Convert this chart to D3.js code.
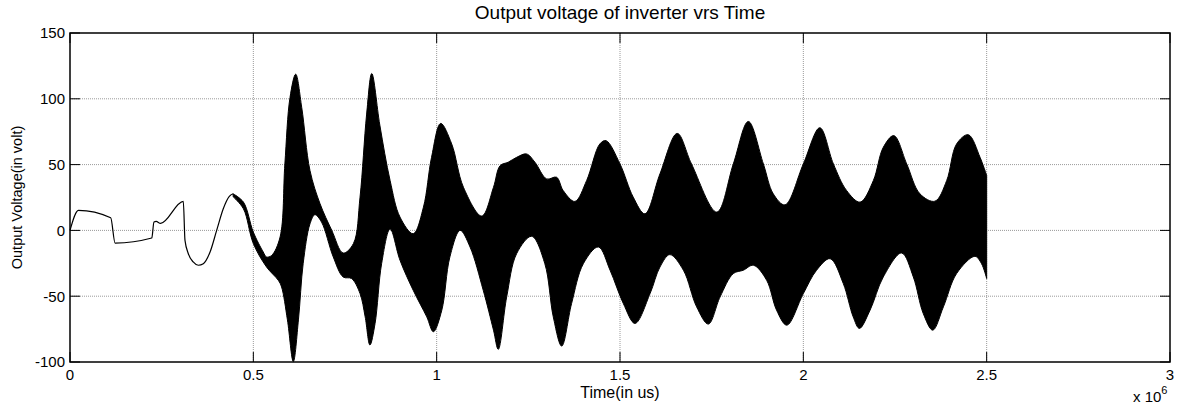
<!DOCTYPE html>
<html>
<head>
<meta charset="utf-8">
<script src="https://cdn.jsdelivr.net/npm/d3@7"></script>
<style>
  body { margin: 0; background: #fff; }
  text { font-family: 'Liberation Sans', Arial, sans-serif; fill: #000; }
</style>
</head>
<body>
<script>
// DATA (time in units of 1e6 us, voltage in volt)
const xTicks = [0, 0.5, 1, 1.5, 2, 2.5, 3];
const yTicks = [-100, -50, 0, 50, 100, 150];

// single trace before the oscillation builds up
const earlyTime = [0, 0.023, 0.111, 0.123, 0.223, 0.229, 0.235, 0.247, 0.309, 0.3136, 0.3227, 0.336, 0.350, 0.3636, 0.382, 0.400, 0.418, 0.4345, 0.445];
const earlyVolt = [0, 15.2, 9.6, -9.6, -5.8, 6.3, 6.8, 5.3, 22, -7.6, -17.7, -24, -26.5, -25.3, -16.4, 0, 16.4, 25.8, 27.8];

// envelope of the dense switching signal
const upperTime = [0.445, 0.473, 0.500, 0.527, 0.536, 0.550, 0.573, 0.586, 0.600, 0.6155, 0.632, 0.6545, 0.682, 0.714, 0.745, 0.773, 0.791, 0.809, 0.823, 0.845, 0.873, 0.900, 0.936, 0.964, 0.986, 1.011, 1.041, 1.073, 1.123, 1.155, 1.173, 1.195, 1.218, 1.245, 1.268, 1.300, 1.327, 1.345, 1.377, 1.409, 1.445, 1.462, 1.500, 1.536, 1.568, 1.609, 1.656, 1.695, 1.764, 1.809, 1.850, 1.891, 1.918, 1.950, 2.000, 2.045, 2.082, 2.118, 2.155, 2.191, 2.218, 2.247, 2.282, 2.318, 2.359, 2.391, 2.418, 2.450, 2.482, 2.500];
const upperVolt = [27.8, 21.5, -1.3, -16.4, -20.2, -19, -5, 50.5, 101, 118.7, 93.4, 45.5, 20.2, 0, -17.2, -10, 25.3, 88.4, 119.2, 80, 37.9, 10.1, -2.5, 17.7, 55.5, 81.3, 65.7, 32.8, 10.9, 32.8, 49.2, 51.8, 55.5, 58.1, 51.8, 39.1, 40.4, 30.3, 22, 37.9, 65.7, 68.2, 50.5, 25.3, 12.6, 43, 73.7, 50.5, 13.9, 50.5, 82.8, 50.5, 27.8, 19.4, 50.5, 78, 50.5, 30.3, 21.5, 37.9, 63.1, 72, 50.5, 27.8, 22.2, 37.9, 65.7, 72.7, 55.5, 41.7];

const lowerTime = [0.445, 0.473, 0.500, 0.536, 0.568, 0.577, 0.593, 0.609, 0.623, 0.636, 0.6545, 0.668, 0.686, 0.718, 0.745, 0.768, 0.791, 0.805, 0.818, 0.832, 0.850, 0.873, 0.900, 0.936, 0.973, 0.991, 1.014, 1.036, 1.064, 1.091, 1.127, 1.155, 1.168, 1.191, 1.218, 1.259, 1.295, 1.318, 1.341, 1.368, 1.400, 1.441, 1.473, 1.509, 1.541, 1.582, 1.609, 1.636, 1.673, 1.709, 1.741, 1.773, 1.809, 1.836, 1.864, 1.900, 1.927, 1.955, 2.000, 2.036, 2.073, 2.109, 2.136, 2.153, 2.182, 2.218, 2.268, 2.300, 2.327, 2.353, 2.382, 2.418, 2.468, 2.486, 2.500];
const lowerVolt = [25.5, 16.4, -10, -27.8, -37.9, -43, -68, -99.7, -68, -25, 5, 11.9, 6.3, -20.2, -35.4, -36.6, -48, -65.7, -87.1, -70.7, -25, 1, -22.7, -45.5, -65.7, -77, -60.6, -20.2, 0, -12.6, -45.5, -75.8, -90.4, -50.5, -17.7, -4.5, -25.3, -65.7, -87.9, -55.5, -25.3, -12.6, -30.3, -55.5, -70.7, -48, -27.8, -18.4, -30.3, -58.1, -71.2, -50.5, -32.8, -30.3, -26.5, -37.9, -60.6, -72, -48, -30.3, -21.5, -40.4, -65.7, -74.5, -60.6, -35.4, -17.2, -35.4, -63.1, -75.8, -58.1, -32.8, -19.7, -25.3, -36.6];

// DEFS
const width = 1178;
const height = 412;
const plot = {left: 70, right: 1170, top: 33, bottom: 362};
const tickLen = 10;
const fontFamily = "'Liberation Sans', Arial, sans-serif";

const svg = d3.select('body').append('svg').attr('width', width).attr('height', height);

const x = d3.scaleLinear().domain([0, 3]).range([plot.left, plot.right]);
const y = d3.scaleLinear().domain([-100, 150]).range([plot.bottom, plot.top]);

// GRID
const grid = svg.append('g').attr('class', 'grid');
grid.selectAll('.vgrid')
  .data(xTicks.slice(1, -1))
  .enter().append('line')
    .attr('x1', d => x(d)).attr('x2', d => x(d))
    .attr('y1', plot.top).attr('y2', plot.bottom)
    .attr('stroke', '#9a9a9a')
    .attr('stroke-dasharray', '1,1');
grid.selectAll('.hgrid')
  .data(yTicks.slice(1, -1))
  .enter().append('line')
    .attr('x1', plot.left).attr('x2', plot.right)
    .attr('y1', d => y(d)).attr('y2', d => y(d))
    .attr('stroke', '#9a9a9a')
    .attr('stroke-dasharray', '1,1');

// SIGNAL
const early = earlyTime.map((t, i) => [t, earlyVolt[i]]);
const upper = upperTime.map((t, i) => [t, upperVolt[i]]);
const lower = lowerTime.map((t, i) => [t, lowerVolt[i]]);

const lineGen = d3.line().x(d => x(d[0])).y(d => y(d[1])).curve(d3.curveCatmullRom.alpha(0.5));
const earlyGen = d3.line().x(d => x(d[0])).y(d => y(d[1])).curve(d3.curveMonotoneX);

// band = upper edge forward, lower edge back
const bandPath = lineGen(upper) + lineGen(lower.slice().reverse()).replace(/^M/, 'L') + 'Z';

svg.append('path')
    .attr('d', bandPath)
    .attr('fill', '#000')
    .attr('stroke', '#000')
    .attr('stroke-width', 1);

svg.append('path')
    .attr('d', earlyGen(early))
    .attr('fill', 'none')
    .attr('stroke', '#000')
    .attr('stroke-width', 1.2);

// TICKS (inward on all four sides)
const ticks = svg.append('g').attr('stroke', '#000').attr('stroke-width', 1);
xTicks.forEach(d => {
    ticks.append('line').attr('x1', x(d)).attr('x2', x(d)).attr('y1', plot.bottom).attr('y2', plot.bottom - tickLen);
    ticks.append('line').attr('x1', x(d)).attr('x2', x(d)).attr('y1', plot.top).attr('y2', plot.top + tickLen);
});
yTicks.forEach(d => {
    ticks.append('line').attr('x1', plot.left).attr('x2', plot.left + tickLen).attr('y1', y(d)).attr('y2', y(d));
    ticks.append('line').attr('x1', plot.right).attr('x2', plot.right - tickLen).attr('y1', y(d)).attr('y2', y(d));
});

// BOX
svg.append('rect')
    .attr('x', plot.left).attr('y', plot.top)
    .attr('width', plot.right - plot.left).attr('height', plot.bottom - plot.top)
    .attr('fill', 'none')
    .attr('stroke', '#000')
    .attr('stroke-width', 1.5);

// TICK LABELS
svg.append('g').selectAll('text')
  .data(xTicks)
  .enter().append('text')
    .attr('x', d => x(d))
    .attr('y', plot.bottom + 18)
    .attr('text-anchor', 'middle')
    .style('font-size', '15px')
    .text(d => d);

svg.append('g').selectAll('text')
  .data(yTicks)
  .enter().append('text')
    .attr('x', plot.left - 5)
    .attr('y', d => y(d))
    .attr('dy', '0.36em')
    .attr('text-anchor', 'end')
    .style('font-size', '15px')
    .text(d => d);

// TITLES
svg.append('text')
    .attr('x', (plot.left + plot.right) / 2)
    .attr('y', 19)
    .attr('text-anchor', 'middle')
    .style('font-size', '19px')
    .text('Output voltage of inverter vrs Time');

svg.append('text')
    .attr('x', (plot.left + plot.right) / 2)
    .attr('y', 398)
    .attr('text-anchor', 'middle')
    .style('font-size', '16px')
    .text('Time(in us)');

svg.append('text')
    .attr('transform', `translate(22, ${(plot.top + plot.bottom) / 2}) rotate(-90)`)
    .attr('text-anchor', 'middle')
    .style('font-size', '14.5px')
    .text('Output Voltage(in volt)');

// exponent label
const expText = svg.append('text')
    .attr('x', 1133)
    .attr('y', 402)
    .style('font-size', '15px');
expText.append('tspan').text('x 10');
expText.append('tspan').attr('dy', -8).style('font-size', '11px').text('6');
</script>
</body>
</html>
